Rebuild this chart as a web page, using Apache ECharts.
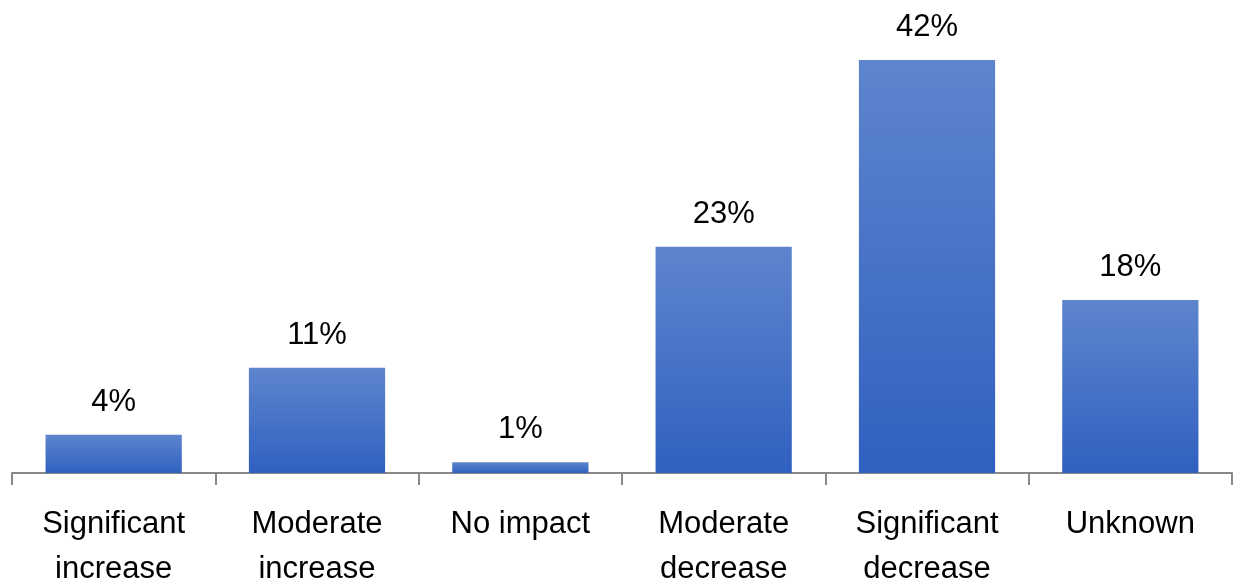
<!DOCTYPE html>
<html><head><meta charset="utf-8">
<script src="https://cdn.jsdelivr.net/npm/echarts@6/dist/echarts.min.js"></script>
<style>html,body{margin:0;padding:0;background:#fff}#c{width:1242px;height:580px}</style>
</head><body><div id="c"></div>
<script>
var categories = ['Significant\nincrease', 'Moderate\nincrease', 'No impact', 'Moderate\ndecrease', 'Significant\ndecrease', 'Unknown'];
var values = [3.9, 10.7, 1.1, 23, 42, 17.6];
var valueLabels = ['4%', '11%', '1%', '23%', '42%', '18%'];

var chart = echarts.init(document.getElementById('c'));
chart.setOption({
  animation: false,
  grid: { left: 12, right: 10, top: 30.5, bottom: 107, containLabel: false, outerBoundsMode: 'none' },
  xAxis: {
    type: 'category',
    data: categories,
    axisLine: { lineStyle: { color: '#898989', width: 2 } },
    axisTick: { show: true, length: 12, lineStyle: { color: '#898989', width: 2 } },
    axisLabel: { color: '#000', fontFamily: 'Liberation Sans', fontSize: 31, lineHeight: 45, margin: 29, interval: 0 }
  },
  yAxis: { type: 'value', min: 0, max: 45, show: false, splitLine: { show: false } },
  series: [{
    type: 'bar',
    data: values,
    barCategoryGap: '33%',
    itemStyle: {
      color: new echarts.graphic.LinearGradient(0, 0, 0, 1, [
        { offset: 0, color: '#5e85cd' },
        { offset: 1, color: '#3060c0' }
      ])
    },
    label: {
      show: true, position: 'top', distance: 17,
      color: '#000', fontFamily: 'Liberation Sans', fontSize: 31,
      formatter: function (p) { return valueLabels[p.dataIndex]; }
    }
  }]
});
</script></body></html>
